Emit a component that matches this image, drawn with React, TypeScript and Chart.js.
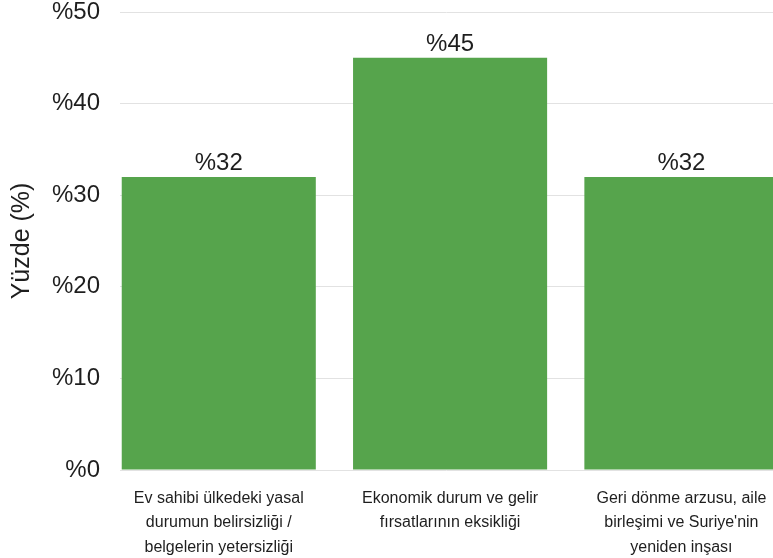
import React, { useEffect, useRef } from "react";
import { Chart, registerables } from "chart.js";

Chart.register(...registerables);

const categories: string[][] = [
  ["Ev sahibi ülkedeki yasal", "durumun belirsizliği /", "belgelerin yetersizliği"],
  ["Ekonomik durum ve gelir", "fırsatlarının eksikliği"],
  ["Geri dönme arzusu, aile", "birleşimi ve Suriye'nin", "yeniden inşası"],
];
const values: number[] = [32, 45, 32];
const yTickValues: number[] = [0, 10, 20, 30, 40, 50];
const yTitle = "Yüzde (%)";

const FONT = "'Liberation Sans', Arial, sans-serif";
const TEXT = "#1e1e1e";
const BAR = "#56a44c";

const valueLabels = {
  id: "valueLabels",
  afterDatasetsDraw(chart: any) {
    const ctx = chart.ctx;
    const meta = chart.getDatasetMeta(0);
    ctx.save();
    ctx.font = `24px ${FONT}`;
    ctx.fillStyle = TEXT;
    ctx.textAlign = "center";
    ctx.textBaseline = "alphabetic";
    meta.data.forEach((el: any, i: number) => {
      ctx.fillText("%" + values[i], el.x, el.y - 7);
    });
    ctx.restore();
  },
};

export default function App() {
  const ref = useRef<HTMLCanvasElement>(null);
  useEffect(() => {
    if (!ref.current) return;
    const chart = new Chart(ref.current, {
      type: "bar",
      data: {
        datasets: [
          {
            data: values.map((v, i) => ({ x: i, y: v })),
            backgroundColor: BAR,
            borderWidth: 0,
            categoryPercentage: 1,
            barPercentage: 0.839,
          } as any,
        ],
      },
      plugins: [valueLabels],
      options: {
        animation: false,
        responsive: false,
        devicePixelRatio: 1,
        layout: { padding: { top: 12, left: 0, right: 0, bottom: 0 } },
        plugins: { legend: { display: false }, tooltip: { enabled: false } },
        scales: {
          x: {
            type: "linear",
            offset: false,
            min: -0.427,
            max: 2.396,
            grid: { display: false, offset: false },
            border: { display: false },
            afterBuildTicks: (axis: any) => {
              axis.ticks = categories.map((_, i) => ({ value: i }));
            },
            afterFit: (axis: any) => {
              axis.height = 88;
              axis.paddingLeft = 0;
              axis.paddingRight = 0;
            },
            ticks: {
              autoSkip: false,
              maxRotation: 0,
              minRotation: 0,
              padding: 8,
              color: TEXT,
              font: { family: FONT, size: 16, lineHeight: 1.53 },
              callback: (v: any) => categories[v as number] ?? "",
            },
          },
          y: {
            type: "linear",
            min: 0,
            max: 50,
            grid: { color: "#e2e2e2", drawTicks: false, lineWidth: 1 },
            border: { display: false },
            afterBuildTicks: (axis: any) => {
              axis.ticks = yTickValues.map((v) => ({ value: v }));
            },
            afterFit: (axis: any) => {
              axis.width = 120;
              axis.paddingTop = 0;
              axis.paddingBottom = 0;
            },
            ticks: {
              padding: 20,
              color: TEXT,
              font: { family: FONT, size: 24, lineHeight: 1 },
              callback: (v: any) => "%" + v,
            },
            title: {
              display: true,
              text: yTitle,
              color: TEXT,
              padding: { top: 7, bottom: 0 },
              font: { family: FONT, size: 25, lineHeight: 1.2 },
            },
          },
        },
      } as any,
    });
    return () => chart.destroy();
  }, []);
  return (
    <div style={{ position: "absolute", left: 0, top: 0, width: 773, height: 558, background: "#fff" }}>
      <canvas ref={ref} width={773} height={558} style={{ width: 773, height: 558, display: "block" }} />
    </div>
  );
}
